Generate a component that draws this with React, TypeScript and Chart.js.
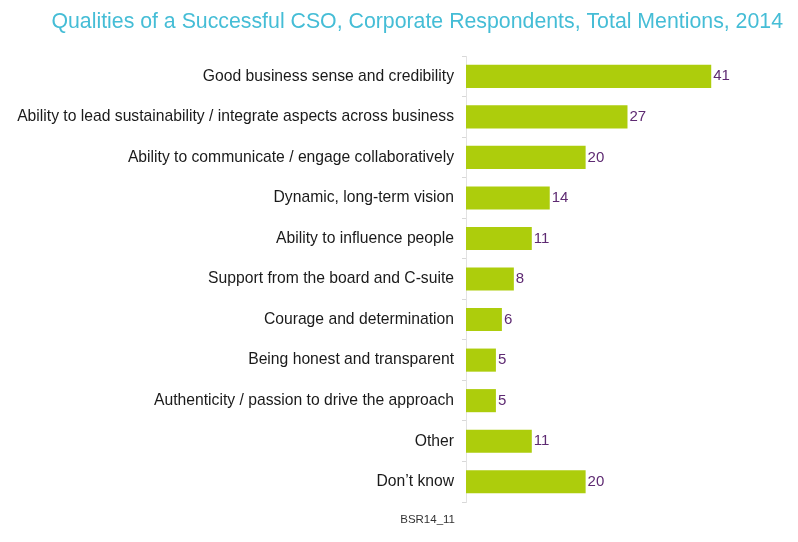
import React, { useEffect, useRef } from "react";
import { Chart, registerables } from "chart.js";

Chart.register(...registerables);

const categories = [
  "Good business sense and credibility",
  "Ability to lead sustainability / integrate aspects across business",
  "Ability to communicate / engage collaboratively",
  "Dynamic, long-term vision",
  "Ability to influence people",
  "Support from the board and C-suite",
  "Courage and determination",
  "Being honest and transparent",
  "Authenticity / passion to drive the approach",
  "Other",
  "Don\u2019t know",
];
const mentions = [41, 27, 20, 14, 11, 8, 6, 5, 5, 11, 20];
const titleText = "Qualities of a Successful CSO, Corporate Respondents, Total Mentions, 2014";
const footerText = "BSR14_11";

const FONT = "'Liberation Sans', Arial, sans-serif";

export default function App() {
  const ref = useRef<HTMLCanvasElement | null>(null);
  useEffect(() => {
    document.body.style.margin = "0";
    const canvas = ref.current;
    if (!canvas) return;
    const valueLabels = {
      id: "valueLabels",
      afterDatasetsDraw(chart: any) {
        const ctx = chart.ctx;
        const meta = chart.getDatasetMeta(0);
        ctx.save();
        ctx.font = `15px ${FONT}`;
        ctx.fillStyle = "#5E2A72";
        ctx.textAlign = "left";
        ctx.textBaseline = "middle";
        meta.data.forEach((bar: any, i: number) => {
          ctx.fillText(String(mentions[i]), bar.x + 2, bar.y);
        });
        ctx.restore();
      },
    };
    const footer = {
      id: "footer",
      afterDraw(chart: any) {
        const ctx = chart.ctx;
        ctx.save();
        ctx.font = `11.5px ${FONT}`;
        ctx.fillStyle = "#333333";
        ctx.textAlign = "right";
        ctx.textBaseline = "middle";
        ctx.fillText(footerText, chart.chartArea.left - 11, 520);
        ctx.restore();
      },
    };
    const chart = new Chart(canvas, {
      type: "bar",
      data: {
        labels: categories,
        datasets: [
          {
            data: mentions,
            backgroundColor: "#ADCD0C",
            borderWidth: 0,
            categoryPercentage: 1,
            barPercentage: 0.57,
          },
        ],
      },
      plugins: [valueLabels, footer],
      options: {
        indexAxis: "y",
        responsive: false,
        animation: false,
        layout: { padding: { top: 0, right: 15, bottom: 40, left: 0 } },
        plugins: {
          legend: { display: false },
          tooltip: { enabled: false },
          title: {
            display: true,
            text: titleText,
            color: "#45BDD6",
            font: { family: FONT, size: 21.3, weight: "normal", lineHeight: 1.2 },
            padding: { top: 9, bottom: 21.5 },
            align: "end",
          },
        },
        scales: {
          x: { display: false, min: 0, max: 53 },
          y: {
            afterFit(scale: any) {
              scale.width = 466;
            },
            border: { display: true, color: "#E2E2E2", width: 1 },
            grid: {
              display: true,
              drawOnChartArea: false,
              drawTicks: true,
              tickLength: 4,
              color: "#D8D8D8",
              offset: true,
            },
            ticks: {
              color: "#1A1A1A",
              padding: 8,
              font: { family: FONT, size: 15.7 },
            },
          },
        },
      },
    } as any);
    return () => chart.destroy();
  }, []);
  return (
    <div style={{ width: 798, height: 542, background: "#fff" }}>
      <canvas ref={ref} width={798} height={542} />
    </div>
  );
}
